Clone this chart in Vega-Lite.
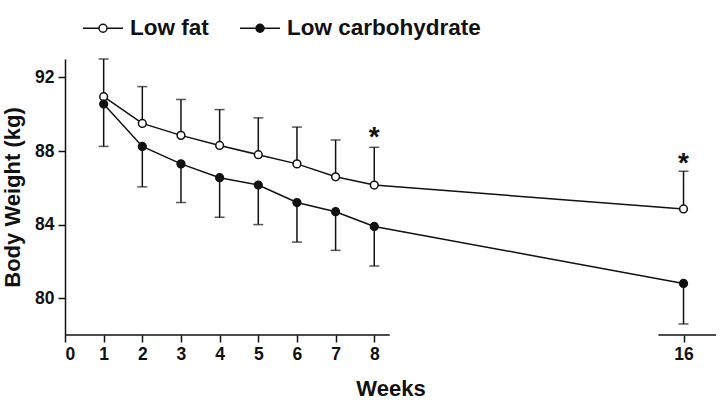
{
  "$schema": "https://vega.github.io/schema/vega-lite/v6.json",
  "autosize": {"type": "none"},
  "padding": {"left": 65, "top": 59, "right": 8, "bottom": 68},
  "width": 651,
  "height": 276,
  "background": "white",
  "config": {
    "font": "Liberation Sans",
    "view": {"stroke": null},
    "axis": {"grid": false, "domainColor": "#111", "tickColor": "#111", "labelColor": "#111", "titleColor": "#111", "labelFont": "Liberation Sans", "titleFont": "Liberation Sans", "labelFontWeight": "bold", "titleFontWeight": "bold", "labelFontSize": 17.5, "titleFontSize": 22, "tickSize": 7, "domainWidth": 1.5, "tickWidth": 1.5}
  },
  "datasets": {
    "points": [
      {"week": 1, "diet": "Low fat", "weight": 90.95, "err": 93.0},
      {"week": 2, "diet": "Low fat", "weight": 89.5, "err": 91.5},
      {"week": 3, "diet": "Low fat", "weight": 88.85, "err": 90.8},
      {"week": 4, "diet": "Low fat", "weight": 88.3, "err": 90.25},
      {"week": 5, "diet": "Low fat", "weight": 87.8, "err": 89.8},
      {"week": 6, "diet": "Low fat", "weight": 87.3, "err": 89.3},
      {"week": 7, "diet": "Low fat", "weight": 86.6, "err": 88.6},
      {"week": 8, "diet": "Low fat", "weight": 86.15, "err": 88.2},
      {"week": 16, "diet": "Low fat", "weight": 84.85, "err": 86.9},
      {"week": 1, "diet": "Low carbohydrate", "weight": 90.55, "err": 88.25},
      {"week": 2, "diet": "Low carbohydrate", "weight": 88.25, "err": 86.05},
      {"week": 3, "diet": "Low carbohydrate", "weight": 87.3, "err": 85.2},
      {"week": 4, "diet": "Low carbohydrate", "weight": 86.55, "err": 84.4},
      {"week": 5, "diet": "Low carbohydrate", "weight": 86.15, "err": 84.0},
      {"week": 6, "diet": "Low carbohydrate", "weight": 85.2, "err": 83.05},
      {"week": 7, "diet": "Low carbohydrate", "weight": 84.7, "err": 82.6},
      {"week": 8, "diet": "Low carbohydrate", "weight": 83.9, "err": 81.75},
      {"week": 16, "diet": "Low carbohydrate", "weight": 80.8, "err": 78.6}
    ],
    "stars": [
      {"week": 8, "pos": 88.25, "label": "*"},
      {"week": 16, "pos": 86.85, "label": "*"}
    ],
    "axisSegments": [
      {"from": 0, "to": 8.4},
      {"from": 15.35, "to": 16.84}
    ]
  },
  "layer": [
    {
      "data": {"name": "axisSegments"},
      "mark": {"type": "rule", "color": "#111", "strokeWidth": 1.5},
      "encoding": {
        "x": {"field": "from", "type": "quantitative", "scale": {"domain": [0, 16.84], "nice": false, "zero": true}, "axis": {"values": [0, 1, 2, 3, 4, 5, 6, 7, 8, 16], "domain": false, "title": "Weeks", "titlePadding": 16, "labelPadding": 3}},
        "x2": {"field": "to"},
        "y": {"datum": 78, "type": "quantitative", "scale": {"domain": [78, 93], "nice": false, "zero": false}, "axis": {"values": [80, 84, 88, 92], "title": "Body Weight (kg)", "titlePadding": 10, "labelPadding": 4}}
      }
    },
    {
      "data": {"name": "points"},
      "mark": {"type": "rule", "color": "#111", "strokeWidth": 1.5},
      "encoding": {
        "x": {"field": "week", "type": "quantitative"},
        "y": {"field": "weight", "type": "quantitative"},
        "y2": {"field": "err"}
      }
    },
    {
      "data": {"name": "points"},
      "mark": {"type": "tick", "orient": "horizontal", "color": "#111", "size": 10, "thickness": 1.5},
      "encoding": {
        "x": {"field": "week", "type": "quantitative"},
        "y": {"field": "err", "type": "quantitative"}
      }
    },
    {
      "data": {"name": "points"},
      "mark": {"type": "line", "color": "#111", "strokeWidth": 1.5},
      "encoding": {
        "x": {"field": "week", "type": "quantitative"},
        "y": {"field": "weight", "type": "quantitative"},
        "detail": {"field": "diet"}
      }
    },
    {
      "data": {"name": "points"},
      "mark": {"type": "point", "filled": true, "stroke": "#111", "strokeWidth": 1.5, "size": 60, "opacity": 1, "shape": "circle"},
      "encoding": {
        "x": {"field": "week", "type": "quantitative"},
        "y": {"field": "weight", "type": "quantitative"},
        "fill": {
          "field": "diet", "type": "nominal",
          "scale": {"domain": ["Low fat", "Low carbohydrate"], "range": ["white", "#111"]},
          "legend": {
            "title": null, "orient": "none", "legendX": 17, "legendY": -52, "direction": "horizontal",
            "symbolType": "M-1,0H-0.2M0.2,0A0.2,0.2,0,1,1,-0.2,0A0.2,0.2,0,1,1,0.2,0M0.2,0H1",
            "symbolSize": 1600, "symbolStrokeColor": "#111", "symbolStrokeWidth": 1.5,
            "labelFont": "Liberation Sans", "labelFontWeight": "bold", "labelFontSize": 22.5, "labelColor": "#111",
            "labelOffset": 6, "columnPadding": 28, "symbolOpacity": 1, "labelLimit": 0
          }
        }
      }
    },
    {
      "data": {"name": "stars"},
      "mark": {"type": "text", "fontSize": 28, "fontWeight": "bold", "baseline": "alphabetic", "align": "center", "color": "#111", "dy": 0},
      "encoding": {
        "x": {"field": "week", "type": "quantitative"},
        "y": {"field": "pos", "type": "quantitative"},
        "text": {"field": "label"}
      }
    }
  ]
}
